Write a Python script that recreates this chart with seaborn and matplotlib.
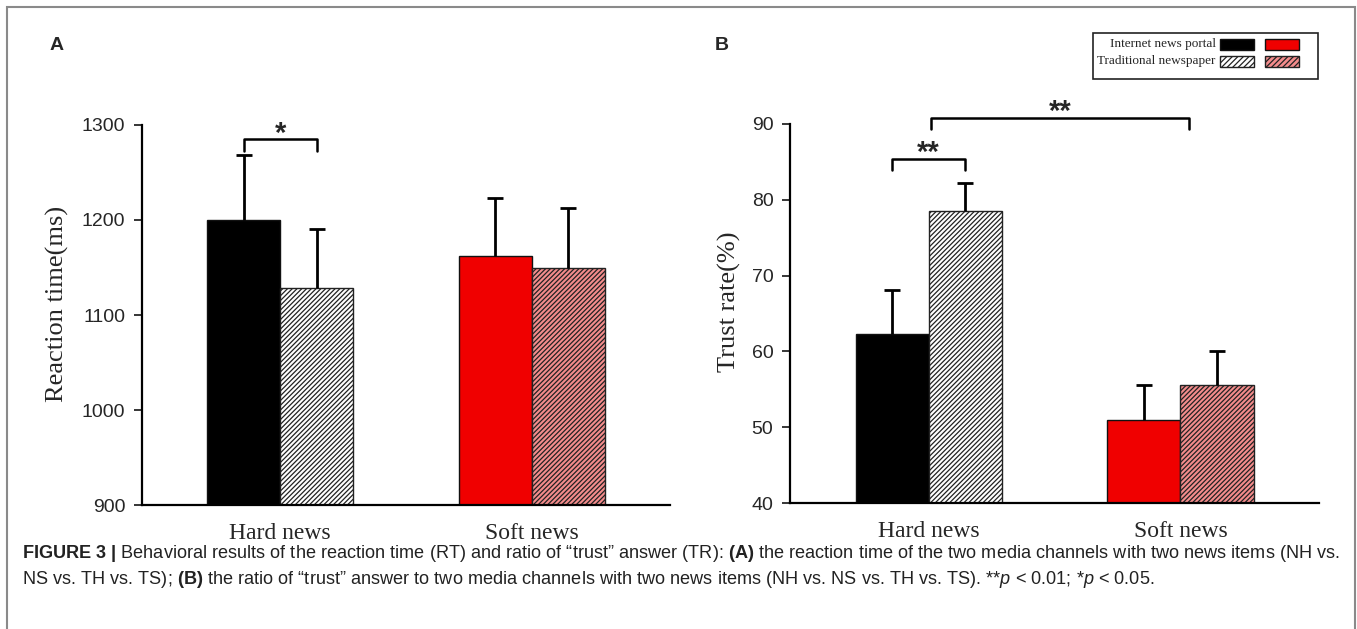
import seaborn as sns
import matplotlib.pyplot as plt
import matplotlib.patches as patches
import pandas as pd

# values
news = ['Hard news', 'Soft news']
channels = ['Internet news portal', 'Traditional newspaper']

rt_mean = [1200, 1128, 1162, 1149]      # NH, TH, NS, TS
rt_err = [68, 63, 61, 64]
trust_mean = [62.3, 78.5, 51.0, 55.6]   # NH, TH, NS, TS
trust_err = [5.8, 3.7, 4.6, 4.5]

solid_cols = ['#000000', '#f00000']
hatch_cols = ['#ffffff', '#f48c8c']

sns.set_style('white')
plt.rcParams['mathtext.fontset'] = 'custom'
plt.rcParams['mathtext.rm'] = 'Liberation Sans'
plt.rcParams['mathtext.bf'] = 'Liberation Sans:bold'
plt.rcParams['mathtext.it'] = 'Liberation Sans:italic'
plt.rcParams['hatch.linewidth'] = 0.9


def make_df(means, errs):
    rows = []
    k = 0
    for n in news:
        for c in channels:
            rows.append({'news': n, 'channel': c, 'value': means[k], 'err': errs[k]})
            k += 1
    return pd.DataFrame(rows)


def draw_panel(ax, df, ylim, yticks, ylabel, label_x):
    sns.barplot(data=df, x='news', y='value', hue='channel', order=news,
                hue_order=channels, width=0.58, errorbar=None, legend=False,
                ax=ax)
    # recolour: black/red by news type, hatched for newspaper
    for i, cont in enumerate(ax.containers):
        for j, bar in enumerate(cont):
            if i == 0:
                bar.set_facecolor(solid_cols[j])
                bar.set_edgecolor('#111111')
            else:
                bar.set_facecolor(hatch_cols[j])
                bar.set_edgecolor('#222222')
                bar.set_hatch('///////')
            bar.set_linewidth(1.0)
            # one-sided error bar with cap
            sub = df[(df['news'] == news[j]) & (df['channel'] == channels[i])]
            x = bar.get_x() + bar.get_width() / 2
            top = sub['value'].iloc[0]
            e = sub['err'].iloc[0]
            ax.vlines(x, top, top + e, color='black', lw=2, zorder=3)
            ax.hlines(top + e, x - 0.032, x + 0.032, color='black', lw=2, zorder=3)

    ax.set_xlim(-0.55, 1.55)
    ax.set_ylim(*ylim)
    ax.set_yticks(yticks)
    ax.set_yticklabels([str(t) for t in yticks], fontname='Liberation Sans', fontsize=14)
    ax.set_xticks([0, 1])
    ax.set_xticklabels(news, fontname='Liberation Serif', fontsize=17)
    ax.tick_params(axis='x', length=0, pad=13)
    ax.tick_params(axis='y', length=6, width=1.3, direction='out', pad=6, left=True)
    ax.spines['right'].set_visible(False)
    ax.spines['top'].set_visible(False)
    ax.spines['left'].set_linewidth(1.6)
    ax.spines['bottom'].set_linewidth(1.6)
    ax.spines['left'].set_color('black')
    ax.spines['bottom'].set_color('black')
    ax.set_xlabel('')
    ax.set_ylabel(ylabel, fontname='Liberation Serif', fontsize=19)
    ax.yaxis.set_label_coords(label_x, 0.53)


def bracket(ax, x1, x2, y, drop, label):
    ax.plot([x1, x1, x2, x2], [y - drop, y, y, y - drop], color='black', lw=1.8,
            clip_on=False)
    ax.annotate(label, xy=((x1 + x2) / 2, y), xytext=(0, -6), textcoords='offset points',
                ha='center', va='bottom', fontsize=21, fontweight='bold',
                fontname='Liberation Sans', annotation_clip=False)


fig = plt.figure(figsize=(13.57, 6.29), dpi=100)
axA = fig.add_axes([0.1046, 0.1971, 0.3891, 0.6042])
axB = fig.add_axes([0.5822, 0.2003, 0.3898, 0.6026])

dfA = make_df(rt_mean, rt_err)
dfB = make_df(trust_mean, trust_err)
draw_panel(axA, dfA, (900, 1300), [900, 1000, 1100, 1200, 1300], 'Reaction time(ms)', -0.138)
draw_panel(axB, dfB, (40, 90), [40, 50, 60, 70, 80, 90], 'Trust rate(%)', -0.092)

bracket(axA, -0.145, 0.145, 1285, 12, '*')
bracket(axB, -0.145, 0.145, 85.4, 1.5, '**')
bracket(axB, 0.01, 1.035, 90.8, 1.4, '**')

# panel letters
fig.text(0.042, 0.928, 'A', fontsize=14, fontweight='bold', fontname='Liberation Sans',
         ha='center', va='center')
fig.text(0.532, 0.928, 'B', fontsize=14, fontweight='bold', fontname='Liberation Sans',
         ha='center', va='center')

# legend box
fig.patches.append(patches.Rectangle((0.8055, 0.8744), 0.1658, 0.0731, transform=fig.transFigure,
                                     fill=False, edgecolor='#222222', lw=1.2))
rows_y = [0.9205, 0.8935]
for r, lab in enumerate(channels):
    fig.text(0.896, rows_y[r] + 0.0088, lab, fontname='Liberation Serif', fontsize=9.5,
             ha='right', va='center')
    for c, cx in enumerate([0.899, 0.9322]):
        if r == 0:
            p = patches.Rectangle((cx, rows_y[r]), 0.0251, 0.0175, transform=fig.transFigure,
                                  facecolor=solid_cols[c], edgecolor='#111111', lw=1)
        else:
            p = patches.Rectangle((cx, rows_y[r]), 0.0251, 0.0175, transform=fig.transFigure,
                                  facecolor=hatch_cols[c], edgecolor='#222222', lw=1,
                                  hatch='//////')
        fig.patches.append(p)

# figure frame
fig.patches.append(patches.Rectangle((7 / 1357, -0.05), 1348 / 1357, 1.05 - 7 / 629,
                                     transform=fig.transFigure, fill=False,
                                     edgecolor='#8a8a8a', lw=1.5))

# caption
line1 = (r'$\mathbf{FIGURE\ 3\ |}$ Behavioral results of the reaction time (RT) and ratio of '
         '\u201ctrust\u201d answer (TR): ' r'$\mathbf{(A)}$' ' the reaction time of the two media '
         'channels with two news items (NH vs.')
line2 = ('NS vs. TH vs. TS); ' r'$\mathbf{(B)}$' ' the ratio of \u201ctrust\u201d answer to two '
         'media channels with two news items (NH vs. NS vs. TH vs. TS). **' r'$\mathit{p}$'
         ' < 0.01; *' r'$\mathit{p}$' ' < 0.05.')
fig.text(22 / 1357, 1 - 553 / 629, line1, fontname='Liberation Sans', fontsize=13.1,
         color='#222222', ha='left', va='center')
fig.text(22 / 1357, 1 - 579 / 629, line2, fontname='Liberation Sans', fontsize=13.1,
         color='#222222', ha='left', va='center')

fig.savefig('out.png', dpi=100)
